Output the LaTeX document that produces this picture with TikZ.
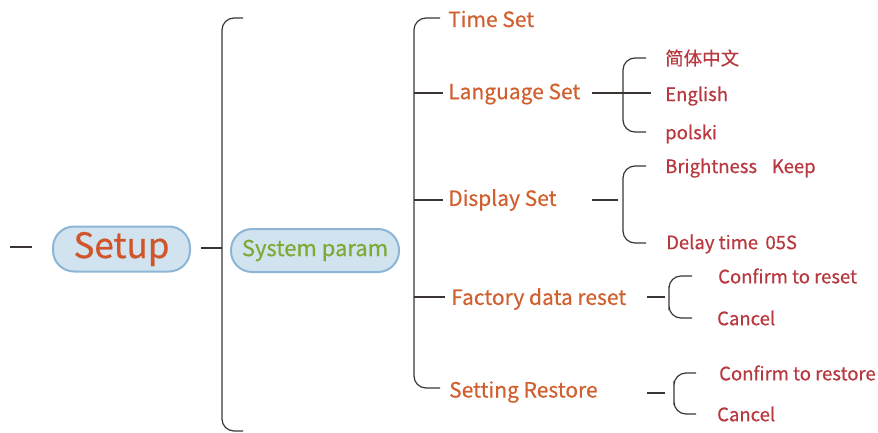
\documentclass[tikz,border=0pt]{standalone}
\usepackage{fontspec}
\setmainfont{Noto Sans CJK SC}[FakeBold=0.5]
\usetikzlibrary{positioning}
\definecolor{rootred}{HTML}{D0552A}
\definecolor{itemorange}{HTML}{D0602F}
\definecolor{subred}{HTML}{B8383F}
\definecolor{paramgreen}{HTML}{7DAA34}
\definecolor{pillfill}{HTML}{D0E3EF}
\definecolor{pilldraw}{HTML}{8DB5D5}
\definecolor{linegray}{HTML}{3A3533}
\tikzset{
pill/.style={
	rectangle,
	rounded corners=21pt,
	text centered,
	draw=pilldraw,
	line width=2pt,
	fill=pillfill,
	inner sep=0pt
},
item/.style={
	anchor=west,
	text=itemorange,
	font=\fontsize{21}{24}\selectfont,
	inner sep=0pt
},
subitem/.style={
	anchor=west,
	text=subred,
	font=\fontsize{18.5}{21}\selectfont,
	inner sep=0pt
},
branch/.style={
	draw=linegray,
	line width=1.2pt,
	rounded corners=12pt
},
tick/.style={
	draw=linegray,
	line width=1.2pt
}
}
\begin{document}
\begin{tikzpicture}[x=1pt, y=-1pt]
\useasboundingbox (0,0) rectangle (878,433);
% ===== Root and first level =====
\node (setup) [pill, minimum width=137pt, minimum height=45pt, text=rootred,
      font=\fontsize{35}{38}\selectfont]                      at (121.5,249) {Setup};
\node (param) [pill, minimum width=168pt, minimum height=43pt, text=paramgreen,
      font=\fontsize{22}{24}\selectfont]                      at (315,250.5) {System param};
\coordinate (lead)   at (10,247);
\coordinate (rootbr) at (222,248);
% ===== Second level =====
\node (time)    [item] at (448,19)  {Time Set};
\node (lang)    [item] at (448,94)  {Language Set};
\node (disp)    [item] at (448,200) {Display Set};
\node (factory) [item] at (451,299) {Factory data reset};
\node (restore) [item] at (449,392) {Setting Restore};
\coordinate (parambr) at (414,200);
% ===== Third level =====
\node (zh)      [subitem] at (665,58)  {简体中文};
\node (en)      [subitem] at (665,96)  {English};
\node (pl)      [subitem] at (665,134) {polski};
\node (bright)  [subitem] at (665,168) {Brightness\hspace{0.8em}Keep};
\node (delay)   [subitem] at (666,244) {Delay time\hspace{0.4em}05S};
\node (confrst) [subitem] at (718,276) {Confirm to reset};
\node (cancel1) [subitem] at (717,318) {Cancel};
\node (confsto) [subitem] at (719,373) {Confirm to restore};
\node (cancel2) [subitem] at (717,414) {Cancel};
% bracket spines and stub ends
\coordinate (langdash) at (592,93);   \coordinate (langbr) at (623,93);
\coordinate (dispdash) at (592,200);  \coordinate (dispbr) at (623,204);
\coordinate (factdash) at (647,297);  \coordinate (factbr) at (669,298);
\coordinate (restdash) at (647,393);  \coordinate (restbr) at (674,393);

% lead-in stub and setup -> big bracket
\draw [tick] (lead) -- ++(22,0);
\draw [tick] ([xshift=10pt]setup.east |- rootbr) -- (rootbr);
\draw [branch] (243,18) -| (rootbr) |- (243,431);
% system param -> second level bracket
\draw [branch] (440,18) -| (parambr) |- (440,388);
\draw [tick] (parambr |- langdash) -- ([xshift=-5pt]lang.west |- langdash);
\draw [tick] (parambr)             -- ([xshift=-5pt]disp.west |- dispdash);
\draw [tick] (parambr |- factdash) -- ([xshift=-6pt]factory.west |- factdash);

% language set -> languages
\draw [tick] (langdash) -- (langbr) -- ++(28,0);
\draw [branch] ([xshift=-19pt]zh.west) -| (langbr) |- ([xshift=-19pt]pl.west |- 0,132);
% display set -> brightness / delay
\draw [tick] (dispdash) -- ++(26,0);
\draw [branch] ([xshift=-19pt]bright.west |- 0,166) -| (dispbr) |- ([xshift=-20pt]delay.west |- 0,243);
% factory data reset -> confirm / cancel
\draw [tick] (factdash) -- ++(18,0);
\draw [branch] ([xshift=-26pt]confrst.west) -| (factbr) |- ([xshift=-25pt]cancel1.west);
% setting restore -> confirm / cancel
\draw [tick] (restdash) -- ++(18,0);
\draw [branch] ([xshift=-23pt]confsto.west) -| (restbr) |- ([xshift=-21pt]cancel2.west);
\end{tikzpicture}
\end{document}
